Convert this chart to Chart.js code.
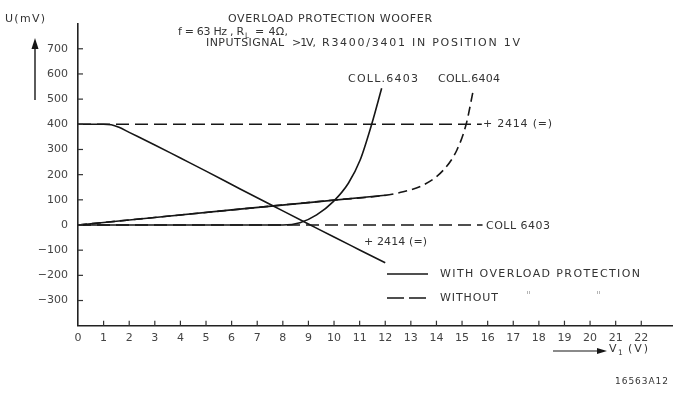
<!DOCTYPE html>
<html><head><meta charset="utf-8">
<script src="https://cdn.jsdelivr.net/npm/chart.js@4.4.1/dist/chart.umd.min.js"></script>
<style>html,body{margin:0;padding:0;background:#fff;}#wrap{width:676px;height:405px;position:relative;}</style>
</head><body><div id="wrap"><canvas id="c" width="676" height="405"></canvas></div>
<script>
// ---- tick labels ----
const xTickValues = [0,1,2,3,4,5,6,7,8,9,10,11,12,13,14,15,16,17,18,19,20,21,22];
const yTickValues = [-300,-200,-100,0,100,200,300,400,500,600,700];

// ---- series (x = V1 in V, y = U in mV) ----
// +2414 (=) with overload protection (solid, falling)
const prot2414X = [0, 1, 1.3, 1.6, 2, 3, 4, 5, 6, 7, 8, 9, 10, 11, 12];
const prot2414Y = [400, 400, 398, 388, 368, 318, 266, 214, 161, 108, 56, 4, -48, -99, -150];
// COLL.6404 with overload protection (solid, rising straight)
const prot6404X = [0, 3, 6, 9, 12];
const prot6404Y = [0, 30, 60, 89, 118];
// COLL.6403 with overload protection (solid curve)
const prot6403X = [0, 8, 8.67, 9.32, 9.97, 10.56, 11.02, 11.47, 11.86];
const prot6403Y = [0, 0, 9, 40, 93, 166, 258, 400, 543];
// COLL.6404 without protection (dashed curve)
const free6404X = [0, 10, 11.93, 12.7, 13.49, 14.27, 14.8, 15.16, 15.44];
const free6404Y = [0, 99, 117, 132, 159, 218, 298, 400, 536];
// +2414 (=) without protection (dashed, flat)
const free2414X = [0, 15.77];
const free2414Y = [400, 400];
// COLL 6403 without protection (dashed, flat)
const free6403X = [0, 15.8];
const free6403Y = [0, 0];

const zip = (xs, ys) => xs.map((x, i) => ({x, y: ys[i]}));
const INK = '#161616';
const TXT = '#333333';
const FONT = '"DejaVu Sans", "Liberation Sans", sans-serif';

function ds(xs, ys, dash, curve) {
  return {
    data: zip(xs, ys), showLine: true, pointRadius: 0, borderColor: INK,
    borderWidth: 1.6, borderDash: dash || [], fill: false,
    cubicInterpolationMode: curve ? 'monotone' : 'default', tension: 0
  };
}

function fitText(ctx, txt, x1, x2, yc, size, color) {
  ctx.font = size + 'px ' + FONT;
  ctx.letterSpacing = '0px';
  const w = ctx.measureText(txt).width;
  const n = [...txt].length;
  let ls = (x2 - x1 - w) / Math.max(n - 1, 1);
  ctx.letterSpacing = ls.toFixed(2) + 'px';
  ctx.fillStyle = color || TXT;
  ctx.textAlign = 'left';
  ctx.textBaseline = 'middle';
  ctx.fillText(txt, x1, yc);
  ctx.letterSpacing = '0px';
}

const decor = {
  id: 'decor',
  afterDraw(chart) {
    const {ctx, scales: {x, y}, chartArea: a} = chart;
    ctx.save();
    // inward tick marks
    ctx.strokeStyle = '#333'; ctx.lineWidth = 1.2;
    xTickValues.forEach(v => {
      if (v === 0) return;
      const px = x.getPixelForValue(v);
      ctx.beginPath(); ctx.moveTo(px, a.bottom); ctx.lineTo(px, a.bottom - 5); ctx.stroke();
    });
    yTickValues.forEach(v => {
      const py = y.getPixelForValue(v);
      ctx.beginPath(); ctx.moveTo(a.left, py); ctx.lineTo(a.left + 5, py); ctx.stroke();
    });

    // titles
    fitText(ctx, 'OVERLOAD PROTECTION WOOFER', 228, 432, 19, 11);
    // f = 63 Hz , R_L = 4Ω,
    fitText(ctx, 'f = 63 Hz , R', 178, 244, 32, 11);
    ctx.font = '7.5px ' + FONT; ctx.fillStyle = TXT; ctx.textBaseline = 'middle';
    ctx.fillText('L', 245, 36);
    fitText(ctx, '= 4Ω,', 255, 288, 32, 11);
    fitText(ctx, 'INPUTSIGNAL', 206, 284, 43, 11);
    fitText(ctx, '>1V,', 292, 316, 43, 11);
    fitText(ctx, 'R3400/3401 IN POSITION 1V', 322, 520, 43, 11);

    // curve labels
    fitText(ctx, 'COLL.6403', 348, 418, 79, 11);
    fitText(ctx, 'COLL.6404', 438, 500, 79, 11);
    fitText(ctx, '+ 2414 (=)', 483, 552, 124, 11);
    fitText(ctx, 'COLL 6403', 486, 550, 226, 11);
    fitText(ctx, '+ 2414 (=)', 364, 427, 242, 11);

    // legend
    ctx.strokeStyle = INK; ctx.lineWidth = 1.6;
    ctx.setLineDash([]);
    ctx.beginPath(); ctx.moveTo(387, 274); ctx.lineTo(428, 274); ctx.stroke();
    ctx.setLineDash([17, 5]);
    ctx.beginPath(); ctx.moveTo(387, 298); ctx.lineTo(428, 298); ctx.stroke();
    ctx.setLineDash([]);
    fitText(ctx, 'WITH OVERLOAD PROTECTION', 440, 640, 274, 11);
    fitText(ctx, 'WITHOUT', 440, 498, 298, 11);
    ctx.font = '11px ' + FONT; ctx.fillStyle = '#b0b0b0';
    ctx.fillText('"', 526, 296);
    ctx.fillText('"', 596, 296);

    // y axis title + arrow
    fitText(ctx, 'U(mV)', 5, 45, 19, 11);
    ctx.strokeStyle = INK; ctx.fillStyle = INK; ctx.lineWidth = 1.4;
    ctx.beginPath(); ctx.moveTo(35, 100); ctx.lineTo(35, 46); ctx.stroke();
    ctx.beginPath(); ctx.moveTo(35, 38); ctx.lineTo(31.5, 49); ctx.lineTo(38.5, 49); ctx.closePath(); ctx.fill();

    // x axis title + arrow
    ctx.lineWidth = 1.2;
    ctx.beginPath(); ctx.moveTo(553, 351); ctx.lineTo(600, 351); ctx.stroke();
    ctx.beginPath(); ctx.moveTo(607, 351); ctx.lineTo(597, 348); ctx.lineTo(597, 354); ctx.closePath(); ctx.fill();
    fitText(ctx, 'V', 609, 617, 349, 11);
    ctx.font = '7.5px ' + FONT; ctx.fillStyle = TXT; ctx.fillText('1', 618, 353);
    fitText(ctx, '(V)', 628, 648, 349, 11);
    fitText(ctx, '16563A12', 615, 668, 382, 9);
    ctx.restore();
  }
};

new Chart(document.getElementById('c'), {
  type: 'scatter',
  data: {
    datasets: [
      ds(free2414X, free2414Y, [13, 6], false),
      ds(free6403X, free6403Y, [13, 6], false),
      ds(free6404X, free6404Y, [9, 5], true),
      ds(prot2414X, prot2414Y, [], true),
      ds(prot6404X, prot6404Y, [], false),
      ds(prot6403X, prot6403Y, [], true)
    ]
  },
  options: {
    responsive: false, animation: false,
    layout: {padding: {top: 23.6, right: 4, left: 0, bottom: 0}},
    plugins: {legend: {display: false}, tooltip: {enabled: false}, title: {display: false}},
    scales: {
      x: {
        type: 'linear', min: 0, max: 23.2,
        afterBuildTicks: s => { s.ticks = xTickValues.map(v => ({value: v})); },
        afterFit: s => { s.height = 405 - 325.7; },
        grid: {display: false, drawTicks: false},
        border: {display: true, color: '#222', width: 1.6},
        ticks: {color: '#444', font: {family: FONT, size: 11}, padding: 6, maxRotation: 0, autoSkip: false,
                callback: v => String(v)}
      },
      y: {
        type: 'linear', min: -400, max: 800,
        afterBuildTicks: s => { s.ticks = yTickValues.map(v => ({value: v})); },
        afterFit: s => { s.width = 78; },
        grid: {display: false, drawTicks: false},
        border: {display: true, color: '#222', width: 1.6},
        ticks: {color: '#444', font: {family: FONT, size: 11}, padding: 10,
                callback: v => (v < 0 ? '\u2212' + Math.abs(v) : String(v))}
      }
    }
  },
  plugins: [decor]
});
</script>
</body></html>
